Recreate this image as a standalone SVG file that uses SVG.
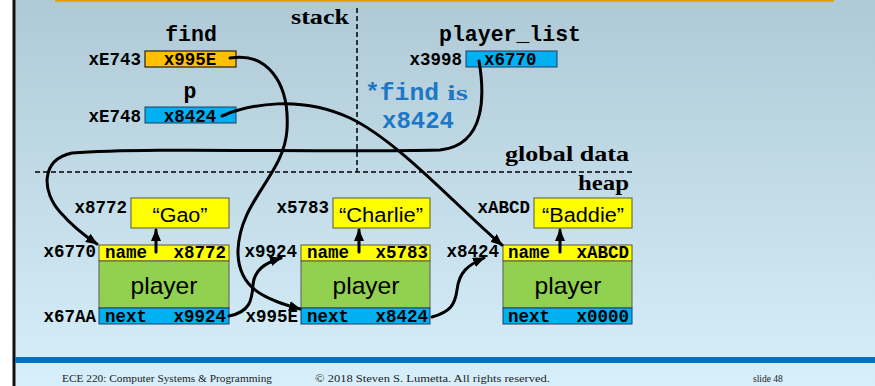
<svg xmlns="http://www.w3.org/2000/svg" width="875" height="386" viewBox="0 0 875 386">
<defs>
<linearGradient id="bg" x1="0" y1="0" x2="0" y2="1">
<stop offset="0" stop-color="#AFC9D6"/>
<stop offset="1" stop-color="#D6EFFA"/>
</linearGradient>
<marker id="ah" markerUnits="userSpaceOnUse" markerWidth="12" markerHeight="10" refX="11" refY="5" orient="auto">
<path d="M0,0 L12,5 L0,10 z" fill="#000"/>
</marker>
<style>
.mono{font-family:"Liberation Mono","DejaVu Sans Mono",monospace;font-weight:bold;fill:#000}
.lbl{font-size:17.5px}
.hdr{font-size:21.5px}
.ser{font-family:"Liberation Serif","DejaVu Serif",serif;font-weight:bold;fill:#000;font-size:22px}
.sans{font-family:"Liberation Sans",Arial,sans-serif;fill:#000}
.foot{font-family:"Liberation Serif","DejaVu Serif",serif;font-size:9.5px;fill:#222}
.yel{fill:#FFFF00;stroke:#5a5a30;stroke-width:1}
.grn{fill:#92D050;stroke:#5a5a5a;stroke-width:1}
.blu{fill:#00B0F0;stroke:#1F3F5F;stroke-width:1}
.org{fill:#FFC000;stroke:#000;stroke-width:1}
.dash{stroke:#000;stroke-width:1.5;stroke-dasharray:5,3;fill:none}
.wire{stroke:#000;stroke-width:3;fill:none;stroke-linecap:round}
.note{fill:#1C78C6}
</style>
</defs>
<rect x="0" y="0" width="875" height="386" fill="#fff"/>
<rect x="14" y="0" width="861" height="386" fill="url(#bg)"/>
<line x1="14" y1="0" x2="14" y2="386" stroke="#111" stroke-width="3"/>
<line x1="55" y1="0.8" x2="834" y2="0.8" stroke="#E0A000" stroke-width="2"/>
<rect x="15" y="357" width="860" height="6" fill="#0070C0"/>
<text class="foot" x="62" y="382" textLength="210" lengthAdjust="spacingAndGlyphs">ECE 220: Computer Systems &amp; Programming</text>
<text class="foot" x="315" y="382" textLength="235" lengthAdjust="spacingAndGlyphs">© 2018 Steven S. Lumetta.  All rights reserved.</text>
<text class="foot" x="753" y="382">slide 48</text>

<g id="regions">
<line class="dash" x1="357" y1="8" x2="357" y2="172"/>
<line class="dash" x1="35" y1="172" x2="632" y2="172"/>
<text class="ser" x="349" y="24" text-anchor="end" textLength="58" lengthAdjust="spacingAndGlyphs">stack</text>
<text class="ser" x="629" y="161" text-anchor="end" textLength="124" lengthAdjust="spacingAndGlyphs">global data</text>
<text class="ser" x="629" y="190" text-anchor="end" textLength="51" lengthAdjust="spacingAndGlyphs">heap</text>
</g>

<g id="find">
<text class="mono hdr" x="191" y="41" text-anchor="middle">find</text>
<text class="mono lbl" x="141" y="65" text-anchor="end">xE743</text>
<rect class="org" x="145" y="51" width="91" height="16"/>
<text class="mono lbl" x="190" y="65" text-anchor="middle">x995E</text>
</g>

<g id="p">
<text class="mono hdr" x="190" y="98" text-anchor="middle">p</text>
<text class="mono lbl" x="141" y="122" text-anchor="end">xE748</text>
<rect class="blu" x="145" y="107" width="91" height="16"/>
<text class="mono lbl" x="190" y="122" text-anchor="middle">x8424</text>
</g>

<g id="player_list">
<text class="mono hdr" x="510" y="41" text-anchor="middle">player_list</text>
<text class="mono lbl" x="462" y="65" text-anchor="end">x3998</text>
<rect class="blu" x="466" y="51" width="91" height="16"/>
<text class="mono lbl" x="484" y="65">x6770</text>
</g>

<g id="note">
<text class="mono note" x="365" y="100" font-size="24" textLength="74" lengthAdjust="spacingAndGlyphs">*find</text>
<text class="ser note" x="447" y="100" font-size="28" textLength="21" lengthAdjust="spacingAndGlyphs">is</text>
<text class="mono note" x="382" y="128" font-size="24">x8424</text>
</g>

<g id="gao">
<text class="mono lbl" x="127" y="213" text-anchor="end">x8772</text>
<rect class="yel" x="131" y="198" width="98" height="30"/>
<text class="sans" x="180" y="222" text-anchor="middle" font-size="20" textLength="55" lengthAdjust="spacingAndGlyphs">“Gao”</text>
</g>

<g id="charlie">
<text class="mono lbl" x="329" y="213" text-anchor="end">x5783</text>
<rect class="yel" x="333" y="198" width="97" height="30"/>
<text class="sans" x="381" y="222" text-anchor="middle" font-size="20" textLength="84" lengthAdjust="spacingAndGlyphs">“Charlie”</text>
</g>

<g id="baddie">
<text class="mono lbl" x="530" y="213" text-anchor="end">xABCD</text>
<rect class="yel" x="534" y="198" width="98" height="30"/>
<text class="sans" x="583" y="222" text-anchor="middle" font-size="20" textLength="82" lengthAdjust="spacingAndGlyphs">“Baddie”</text>
</g>

<g id="node1">
<text class="mono lbl" x="96" y="257" text-anchor="end">x6770</text>
<text class="mono lbl" x="96" y="322" text-anchor="end">x67AA</text>
<rect class="yel" x="99" y="245" width="130" height="16"/>
<rect class="grn" x="99" y="261" width="130" height="47"/>
<rect class="blu" x="99" y="308" width="130" height="16"/>
<text class="mono lbl" x="105" y="258">name</text>
<text class="mono lbl" x="226" y="258" text-anchor="end">x8772</text>
<text class="sans" x="164" y="294" text-anchor="middle" font-size="24" textLength="67" lengthAdjust="spacingAndGlyphs">player</text>
<text class="mono lbl" x="105" y="322">next</text>
<text class="mono lbl" x="226" y="322" text-anchor="end">x9924</text>
</g>

<g id="node2">
<text class="mono lbl" x="297" y="257" text-anchor="end">x9924</text>
<text class="mono lbl" x="298" y="322" text-anchor="end">x995E</text>
<rect class="yel" x="301" y="245" width="129" height="16"/>
<rect class="grn" x="301" y="261" width="129" height="47"/>
<rect class="blu" x="301" y="308" width="129" height="16"/>
<text class="mono lbl" x="307" y="258">name</text>
<text class="mono lbl" x="428" y="258" text-anchor="end">x5783</text>
<text class="sans" x="366" y="294" text-anchor="middle" font-size="24" textLength="67" lengthAdjust="spacingAndGlyphs">player</text>
<text class="mono lbl" x="307" y="322">next</text>
<text class="mono lbl" x="428" y="322" text-anchor="end">x8424</text>
</g>

<g id="node3">
<text class="mono lbl" x="499" y="257" text-anchor="end">x8424</text>
<rect class="yel" x="503" y="245" width="129" height="16"/>
<rect class="grn" x="503" y="261" width="129" height="47"/>
<rect class="blu" x="503" y="308" width="129" height="16"/>
<text class="mono lbl" x="508" y="258">name</text>
<text class="mono lbl" x="629" y="258" text-anchor="end">xABCD</text>
<text class="sans" x="568" y="294" text-anchor="middle" font-size="24" textLength="67" lengthAdjust="spacingAndGlyphs">player</text>
<text class="mono lbl" x="508" y="322">next</text>
<text class="mono lbl" x="629" y="322" text-anchor="end">x0000</text>
</g>

<g id="connectors">
<path class="wire" d="M156 252 L156 230" marker-end="url(#ah)"/>
<path class="wire" d="M359 252 L359 230" marker-end="url(#ah)"/>
<path class="wire" d="M560 252 L560 230" marker-end="url(#ah)"/>
<path class="wire" d="M230 58 C265 52 290 80 287 130 C284 175 240 200 238 250 C237 290 268 300 300 309" marker-end="url(#ah)"/>
<path class="wire" d="M222 116 C250 104 300 95 350 118 C400 142 460 210 502 245" marker-end="url(#ah)"/>
<path class="wire" d="M479 61 C484 90 488 145 440 150 C330 153 150 147 72 153 C40 160 42 192 60 212 C74 228 85 236 97 244" marker-end="url(#ah)"/>
<path class="wire" d="M229 316 C250 312 252 300 253 285 C254 270 265 263 281 258" marker-end="url(#ah)"/>
<path class="wire" d="M432 317 C450 312 455 305 457 290 C459 272 468 265 484 258" marker-end="url(#ah)"/>
</g>
</svg>
